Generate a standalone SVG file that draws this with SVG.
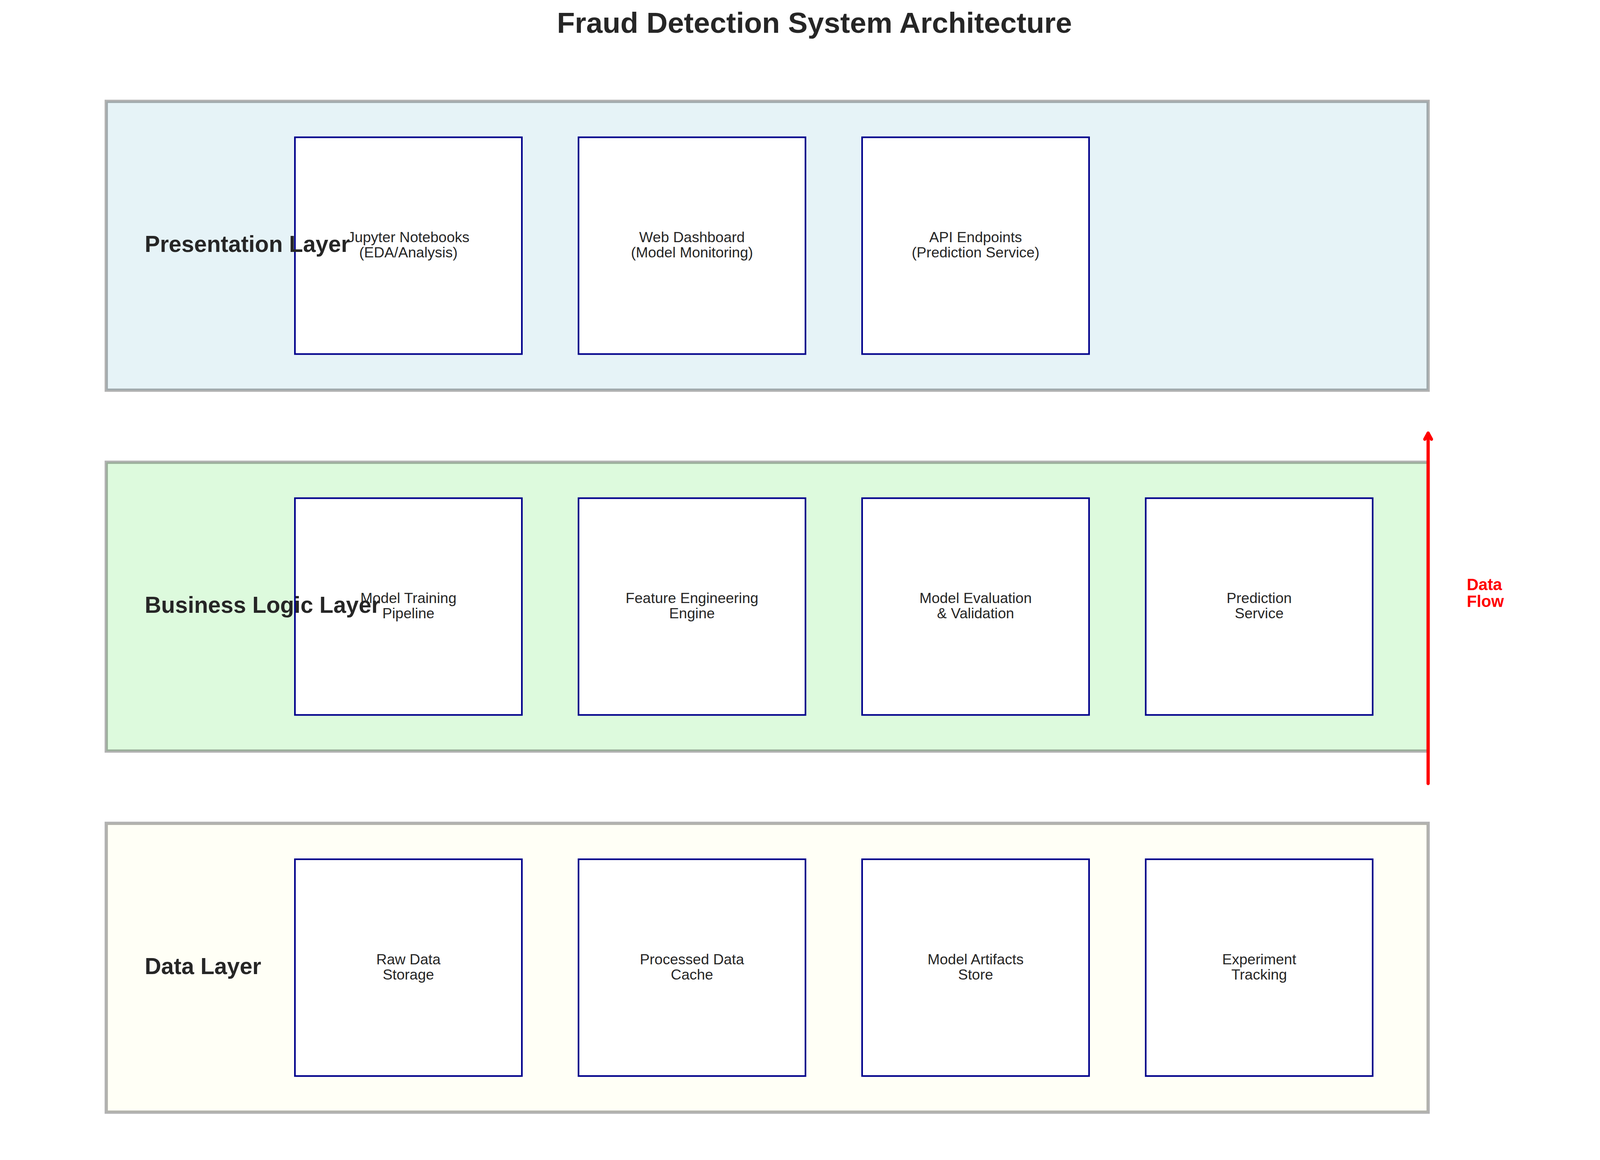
<svg xmlns="http://www.w3.org/2000/svg" width="4170" height="2970" viewBox="0 0 4170 2970">
  <defs>
    <style>
      .layer { stroke: #000000; stroke-opacity: 0.3; stroke-width: 8.33; fill-opacity: 0.3; }
      .box { fill: #ffffff; stroke: #00008b; stroke-width: 4.17; }
      .title { font-family: "Liberation Sans", Arial, sans-serif; font-size: 75px; font-weight: bold; fill: #262626; text-anchor: middle; }
      .llabel { font-family: "Liberation Sans", Arial, sans-serif; font-size: 58.33px; font-weight: bold; fill: #262626; }
      .blabel { font-family: "Liberation Sans", Arial, sans-serif; font-size: 37.5px; fill: #262626; text-anchor: middle; }
      .flow { font-family: "Liberation Sans", Arial, sans-serif; font-size: 41.67px; font-weight: bold; fill: #ff0000; }
      .arrow { stroke: #ff0000; stroke-width: 8.33; fill: none; stroke-linecap: round; stroke-linejoin: round; }
    </style>
    <marker id="head" markerUnits="userSpaceOnUse" orient="auto" refX="0" refY="0" markerWidth="40" markerHeight="40" viewBox="-20 -20 40 40" overflow="visible">
      <path d="M -15.5 -8.5 L 0 0 L -15.5 8.5" fill="none" stroke="#ff0000" stroke-width="8.33" stroke-linecap="round" stroke-linejoin="round"/>
    </marker>
  </defs>
  <rect width="4170" height="2970" fill="#ffffff"/>
  <text class="title" x="2085" y="84">Fraud Detection System Architecture</text>

  <g id="layer-presentation">
    <rect class="layer" x="272" y="259.5" width="3384" height="739.5" fill="#add8e6"/>
  </g>
  <g id="layer-business">
    <rect class="layer" x="272" y="1183.5" width="3384" height="739.5" fill="#90ee90"/>
  </g>
  <g id="layer-data">
    <rect class="layer" x="272" y="2108" width="3384" height="739.5" fill="#ffffe0"/>
  </g>

  <g id="node-jupyter">
    <rect class="box" x="755" y="351.5" width="581" height="555"/>
    <text class="blabel" x="1045.5" y="620"><tspan x="1045.5" y="620">Jupyter Notebooks</tspan><tspan x="1045.5" y="659.3">(EDA/Analysis)</tspan></text>
  </g>
  <g id="node-dashboard">
    <rect class="box" x="1481" y="351.5" width="581" height="555"/>
    <text class="blabel" x="1771.5" y="620"><tspan x="1771.5" y="620">Web Dashboard</tspan><tspan x="1771.5" y="659.3">(Model Monitoring)</tspan></text>
  </g>
  <g id="node-api">
    <rect class="box" x="2207" y="351.5" width="581" height="555"/>
    <text class="blabel" x="2497.5" y="620"><tspan x="2497.5" y="620">API Endpoints</tspan><tspan x="2497.5" y="659.3">(Prediction Service)</tspan></text>
  </g>

  <g id="node-training">
    <rect class="box" x="755" y="1275.5" width="581" height="555"/>
    <text class="blabel" x="1045.5" y="1544"><tspan x="1045.5" y="1544">Model Training</tspan><tspan x="1045.5" y="1583.3">Pipeline</tspan></text>
  </g>
  <g id="node-features">
    <rect class="box" x="1481" y="1275.5" width="581" height="555"/>
    <text class="blabel" x="1771.5" y="1544"><tspan x="1771.5" y="1544">Feature Engineering</tspan><tspan x="1771.5" y="1583.3">Engine</tspan></text>
  </g>
  <g id="node-evaluation">
    <rect class="box" x="2207" y="1275.5" width="581" height="555"/>
    <text class="blabel" x="2497.5" y="1544"><tspan x="2497.5" y="1544">Model Evaluation</tspan><tspan x="2497.5" y="1583.3">&amp; Validation</tspan></text>
  </g>
  <g id="node-prediction">
    <rect class="box" x="2933" y="1275.5" width="581" height="555"/>
    <text class="blabel" x="3223.5" y="1544"><tspan x="3223.5" y="1544">Prediction</tspan><tspan x="3223.5" y="1583.3">Service</tspan></text>
  </g>

  <g id="node-raw">
    <rect class="box" x="755" y="2200" width="581" height="555"/>
    <text class="blabel" x="1045.5" y="2468.5"><tspan x="1045.5" y="2468.5">Raw Data</tspan><tspan x="1045.5" y="2507.8">Storage</tspan></text>
  </g>
  <g id="node-processed">
    <rect class="box" x="1481" y="2200" width="581" height="555"/>
    <text class="blabel" x="1771.5" y="2468.5"><tspan x="1771.5" y="2468.5">Processed Data</tspan><tspan x="1771.5" y="2507.8">Cache</tspan></text>
  </g>
  <g id="node-artifacts">
    <rect class="box" x="2207" y="2200" width="581" height="555"/>
    <text class="blabel" x="2497.5" y="2468.5"><tspan x="2497.5" y="2468.5">Model Artifacts</tspan><tspan x="2497.5" y="2507.8">Store</tspan></text>
  </g>
  <g id="node-experiment">
    <rect class="box" x="2933" y="2200" width="581" height="555"/>
    <text class="blabel" x="3223.5" y="2468.5"><tspan x="3223.5" y="2468.5">Experiment</tspan><tspan x="3223.5" y="2507.8">Tracking</tspan></text>
  </g>

  <g id="layer-labels">
    <text class="llabel" x="370.5" y="645.3">Presentation Layer</text>
    <text class="llabel" x="370.5" y="1569.3">Business Logic Layer</text>
    <text class="llabel" x="370.5" y="2493.8">Data Layer</text>
  </g>

  <g id="connectors">
    <path class="arrow" d="M 3656 2006 L 3656 1109" marker-end="url(#head)"/>
    <text class="flow" x="3755" y="1510.7"><tspan x="3755" y="1510.7">Data</tspan><tspan x="3755" y="1554">Flow</tspan></text>
  </g>
</svg>
